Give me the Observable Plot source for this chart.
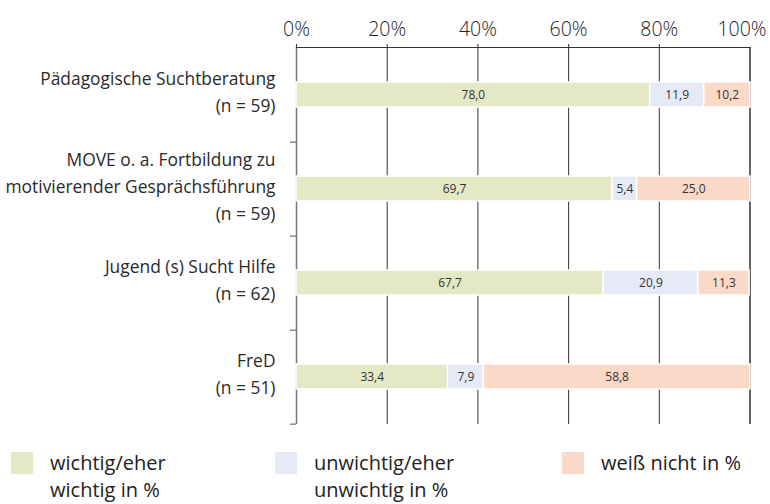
<!DOCTYPE html>
<html>
<head>
<meta charset="utf-8">
<script src="https://cdn.jsdelivr.net/npm/d3@7"></script>
<script src="https://cdn.jsdelivr.net/npm/@observablehq/plot@0.6"></script>
<style>
  html, body { margin: 0; padding: 0; background: #fff; }
  #wrap { position: relative; width: 770px; height: 504px; font-family: "Open Sans", sans-serif; }
  #legend { position: absolute; left: 0; top: 451px; width: 770px; height: 53px; }
  .item { position: absolute; top: 0; display: flex; align-items: flex-start; }
  .sw { width: 22px; height: 22px; margin-top: 1px; flex: none; }
  .lab { margin-left: 17px; font-size: 20px; line-height: 27px; color: #222; margin-top: -2px; font-weight: 400; }
</style>
</head>
<body>
<div id="wrap"><div id="chart"></div><div id="legend"></div></div>
<script>
const categories = [
  "Pädagogische Suchtberatung\n(n = 59)",
  "MOVE o. a. Fortbildung zu\nmotivierender Gesprächsführung\n(n = 59)",
  "Jugend (s) Sucht Hilfe\n(n = 62)",
  "FreD\n(n = 51)"
];
const series = ["wichtig/eher wichtig in %", "unwichtig/eher unwichtig in %", "weiß nicht in %"];
const wichtig = [78.0, 69.7, 67.7, 33.4];
const unwichtig = [11.9, 5.4, 20.9, 7.9];
const weissNicht = [10.2, 25.0, 11.3, 58.8];
const colors = ["#e5e8c4", "#e6eaf6", "#fbd9c8"];
const xTicks = [0, 20, 40, 60, 80, 100];

const seriesValues = [wichtig, unwichtig, weissNicht];
const rows = [];
categories.forEach((c, i) => {
  series.forEach((s, j) => rows.push({category: c, series: s, value: seriesValues[j][i]}));
});
const fmt = v => v.toFixed(1).replace(".", ",");

const W = 770, H = 440, mT = 47, mB = 16, mL = 296, mR = 20.5;
const step = (H - mT - mB) / categories.length;
const tickOpts = {anchor: "top", tickSize: 4, tickPadding: 8, fontSize: 19.5, fontWeight: 300, tickFormat: d => d + "%", fill: "#222", stroke: "#333", label: null};

const chart = Plot.plot({
  width: W, height: H,
  marginTop: mT, marginBottom: mB, marginLeft: mL, marginRight: mR,
  style: {fontFamily: "'Open Sans', sans-serif", background: "white", overflow: "visible"},
  x: {domain: [0, 100], axis: null, label: null},
  y: {domain: categories, paddingInner: 0.735, paddingOuter: 0.3675, axis: null, label: null},
  color: {domain: series, range: colors},
  marks: [
    Plot.gridX(xTicks, {stroke: "#333", strokeOpacity: 1, strokeWidth: 1}),
    Plot.frame({anchor: "top", stroke: "#333", strokeWidth: 1.2}),
    Plot.ruleX([0], {stroke: "#777", strokeWidth: 1.5}),
    Plot.axisY({ticks: categories, tickSize: 6, tickFormat: () => "", dy: step / 2, stroke: "#555", label: null}),
    Plot.axisX(xTicks.slice(0, -1), tickOpts),
    Plot.axisX(xTicks.slice(-1), {...tickOpts, tickSize: 0, tickPadding: 12, dx: -8}),
    Plot.tickX(xTicks.slice(-1), {frameAnchor: "top", stroke: "#333"}),
    Plot.barX(rows, {x: "value", y: "category", fill: "series", stroke: "white", strokeWidth: 1.5}),
    Plot.text(rows, Plot.stackX({x: "value", y: "category", z: "series", text: d => fmt(d.value), fill: "#333", fontSize: 12})),
    Plot.text(categories, {y: d => d, text: d => d, frameAnchor: "left", textAnchor: "end", dx: -21, dy: -5, fontSize: 17.4, fontWeight: 400, lineHeight: 1.55, fill: "#2a2a2a"})
  ]
});
document.getElementById("chart").appendChild(chart);

const legend = document.getElementById("legend");
const lefts = [11, 275, 562];
const widths = [150, 170, 200];
series.forEach((s, i) => {
  const item = document.createElement("div");
  item.className = "item";
  item.style.left = lefts[i] + "px";
  const sw = document.createElement("div");
  sw.className = "sw";
  sw.style.background = colors[i];
  const lab = document.createElement("div");
  lab.className = "lab";
  lab.style.width = widths[i] + "px";
  lab.textContent = s;
  item.appendChild(sw);
  item.appendChild(lab);
  legend.appendChild(item);
});
</script>
</body>
</html>
